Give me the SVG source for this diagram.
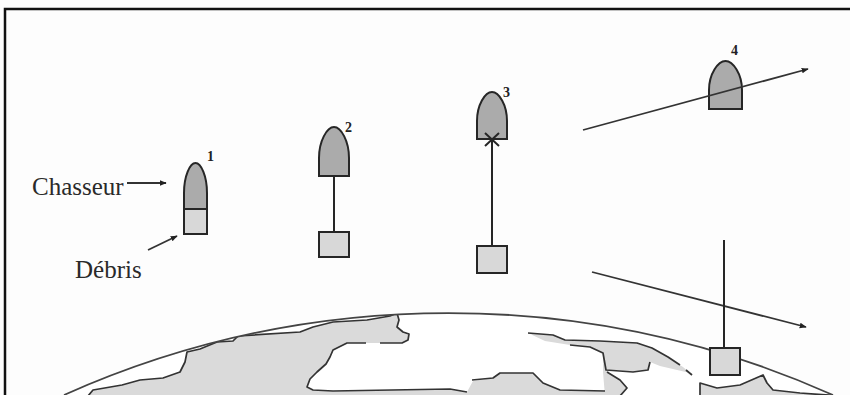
<svg xmlns="http://www.w3.org/2000/svg" width="850" height="395" viewBox="0 0 850 395">
  <defs>
    <style>
      .frame { stroke: #111; stroke-width: 2.5; fill: none; }
      .dome { fill: #ababab; stroke: #262626; stroke-width: 2; }
      .box { fill: #d8d8d8; stroke: #262626; stroke-width: 2; }
      .tether { stroke: #262626; stroke-width: 2; fill: none; }
      .path { stroke: #333; stroke-width: 1.8; fill: none; }
      .label { font-family: "Liberation Serif", "Times New Roman", serif; font-size: 25px; fill: #2a2a2a; }
      .num { font-family: "Liberation Serif", "Times New Roman", serif; font-size: 14px; font-weight: bold; fill: #222; }
      .land { fill: #dadada; stroke: none; }
      .coast { fill: none; stroke: #333; stroke-width: 1.7; stroke-linejoin: round; }
      .horizon { fill: none; stroke: #444; stroke-width: 1.8; }
    </style>
    <marker id="head" viewBox="0 0 10 10" refX="9" refY="5" markerWidth="7" markerHeight="7" markerUnits="userSpaceOnUse" orient="auto">
      <path d="M0,1 L10,5 L0,9 Z" fill="#222"/>
    </marker>
    <clipPath id="globeClip">
      <circle cx="448" cy="1256" r="943"/>
    </clipPath>
  </defs>

  <rect x="0" y="0" width="850" height="395" fill="#fdfdfd"/>

  <!-- frame edges -->
  <path class="frame" d="M5,395 L5,9 L850,9"/>

  <!-- Earth -->
  <g id="earth">
    <circle cx="448" cy="1256" r="943" fill="#ffffff"/>
    <g clip-path="url(#globeClip)">
      <path class="land" d="M60,396 L88,396 L93,390 L122,385 L140,380 L163,378 L180,372 L185,362 L187,352 L200,349 L217,342 L233,341 L238,336 L300,332 L313,327 L333,322 L367,320 L390,316 L397,313 L399,320 L397,327 L403,332 L409,334 L408,340 L402,343 L347,343 L333,350 L330,357 L326,364 L317,372 L310,379 L307,387 L313,390 L333,391 L450,389 L467,392 L473,381 L493,378 L500,373 L533,373 L543,383 L560,390 L605,391 L610,396 Z"/>
      <path class="land" d="M528,333 L553,335 L565,340 L600,341 L637,343 L652,348 L668,357 L683,367 L690,373 L660,366 L650,362 L648,370 L633,372 L613,370 L607,372 L620,380 L627,388 L620,396 L605,396 L603,372 L603,353 L590,347 L570,345 L545,341 Z"/>
      <path class="land" d="M700,396 L700,383 L717,388 L740,385 L763,375 L767,383 L773,390 L800,393 L840,396 Z"/>
      <path class="coast" d="M88,396 L93,390 L122,385 L140,380 L163,378 L180,372 L185,362 L187,352 L200,349 L217,342 L233,341 L238,336 L300,332 L313,327 L333,322 L367,320 L390,316 L397,313 L399,320 L397,327 L403,332 L409,334 L408,340 L402,343 L380,343"/>
      <path class="coast" d="M366,343 L347,343 L333,350 L330,357 L326,364 L317,372 L310,379 L307,387 L313,390 L333,391 L450,389 L467,392"/>
      <path class="coast" d="M472,380 L493,378 L500,373 L533,373 L543,383 L560,390 L605,391"/>
      <path class="coast" d="M528,333 L553,335 L565,340 L600,341 L637,343 L652,348 L668,357 L680,365"/>
      <path class="coast" d="M686,370 L692,375"/>
      <path class="coast" d="M570,345 L590,347 L603,353 L606,370 L633,372 L648,370 L650,362"/>
      <path class="coast" d="M607,372 L620,380 L627,388 L620,396"/>
      <path class="coast" d="M700,396 L700,383 L717,388 L740,385 L763,375 L767,383 L773,390 L800,393 L840,396"/>
    </g>
    <path class="horizon" d="M64,395 A943,943 0 0 1 833,395"/>
  </g>

  <!-- labels -->
  <g id="chasseur-label">
    <text class="label" x="32" y="195">Chasseur</text>
  </g>
  <g id="debris-label">
    <text class="label" x="75" y="278">Débris</text>
  </g>

  <!-- stage 1 -->
  <g id="stage1">
    <path class="dome" d="M184,209 L184,193 C184,176 190,163 195.5,163 C201,163 207,176 207,193 L207,209 Z"/>
    <rect class="box" x="184" y="209" width="23" height="25"/>
    <text class="num" x="207" y="161">1</text>
  </g>

  <!-- stage 2 -->
  <g id="stage2">
    <path class="dome" d="M319,176 L319,158 C319,141 327,127 334,127 C341,127 349,141 349,158 L349,176 Z"/>
    <rect class="box" x="319" y="232" width="30" height="25"/>
    <text class="num" x="345" y="132">2</text>
  </g>

  <!-- stage 3 -->
  <g id="stage3">
    <path class="dome" d="M477,139 L477,121 C477,105 485,92 492,92 C499,92 507,105 507,121 L507,139 Z"/>
    <rect class="box" x="477" y="246" width="30" height="27"/>
    <text class="num" x="503" y="97">3</text>
  </g>

  <!-- stage 4 -->
  <g id="stage4">
    <path class="dome" d="M709,109 L709,90 C709,74 718,61 725.5,61 C733,61 742,74 742,90 L742,109 Z"/>
    <text class="num" x="731" y="55">4</text>
  </g>

  <!-- released debris -->
  <g id="debris-released">
    <rect class="box" x="710" y="348" width="30" height="27"/>
  </g>

  <!-- connectors -->
  <g id="connectors">
    <line class="path" x1="127" y1="183" x2="166" y2="183" marker-end="url(#head)"/>
    <line class="path" x1="148" y1="250" x2="177" y2="236" marker-end="url(#head)"/>
    <line class="tether" x1="334" y1="176" x2="334" y2="232"/>
    <line class="tether" x1="492" y1="139" x2="492" y2="246"/>
    <path class="tether" d="M485,133 L499,146 M499,133 L485,146" stroke-width="1.6"/>
    <line class="path" x1="583" y1="130" x2="808" y2="69" marker-end="url(#head)"/>
    <line class="path" x1="592" y1="272" x2="806" y2="327" marker-end="url(#head)"/>
    <line class="tether" x1="724" y1="240" x2="724" y2="348"/>
  </g>
</svg>
